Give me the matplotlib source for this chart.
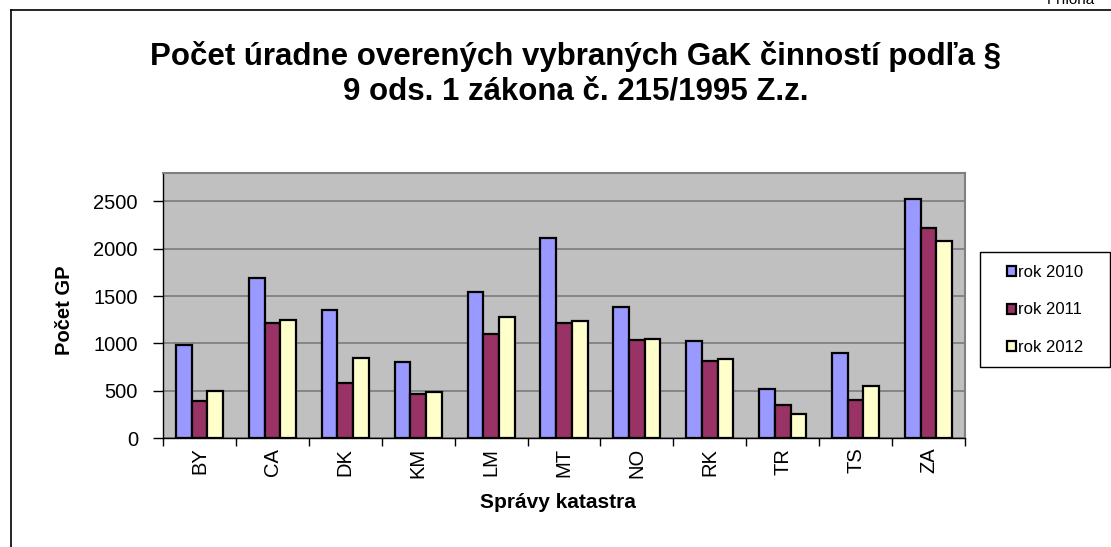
import matplotlib
matplotlib.use("Agg")
import matplotlib.pyplot as plt
import numpy as np
from matplotlib.lines import Line2D
from matplotlib.patches import Rectangle

plt.rcParams['font.family'] = ['Liberation Sans', 'DejaVu Sans']

# data
categories = ['BY', 'CA', 'DK', 'KM', 'LM', 'MT', 'NO', 'RK', 'TR', 'TS', 'ZA']
rok_2010 = [980, 1690, 1350, 805, 1545, 2115, 1380, 1030, 515, 900, 2530]
rok_2011 = [390, 1210, 580, 460, 1100, 1220, 1035, 810, 345, 400, 2215]
rok_2012 = [500, 1250, 845, 490, 1280, 1240, 1045, 835, 255, 550, 2085]
series_names = ['rok 2010', 'rok 2011', 'rok 2012']
colors = ['#9999FF', '#993366', '#FFFFCC']

W, H = 1111, 547
fig = plt.figure(figsize=(W / 100, H / 100), dpi=100)

def fx(px):
    return px / W

def fy(py):
    return 1 - py / H

# outer chart border (top and left visible)
fig.add_artist(Line2D([fx(11), 1.0], [fy(10), fy(10)], color='black', lw=1.2,
                      transform=fig.transFigure))
fig.add_artist(Line2D([fx(11), fx(11)], [fy(10), 0.0], color='black', lw=1.2,
                      transform=fig.transFigure))
fig.text(fx(1047), fy(4), 'Príloha', fontsize=11, ha='left', va='baseline')

# title
fig.text(fx(576), fy(74), 'Počet úradne overených vybraných GaK činností podľa §\n'
         '9 ods. 1 zákona č. 215/1995 Z.z.',
         fontsize=22.5, fontweight='bold', ha='center', va='center',
         multialignment='center', linespacing=1.2)

ax = fig.add_axes([fx(163), fy(438), fx(965) - fx(163), fy(173) - fy(438)])
ax.set_facecolor('#C0C0C0')

x = np.arange(len(categories))
w = 0.215
for i, (vals, name) in enumerate(zip([rok_2010, rok_2011, rok_2012], series_names)):
    ax.bar(x + (i - 1) * w, vals, width=w, color=colors[i], edgecolor='black',
           linewidth=1.6, label=name, zorder=3)

ax.set_xlim(-0.5, len(categories) - 0.5)
ax.set_ylim(0, 2800)
ax.set_yticks(range(0, 3000, 500))
ax.yaxis.grid(True, color='#808080', linewidth=1.3, zorder=0)
ax.set_axisbelow(True)

ax.set_xticks(np.arange(-0.5, len(categories), 1.0))
ax.set_xticklabels([])
ax.set_xticks(x, minor=True)
ax.set_xticklabels(categories, minor=True, rotation=90, fontsize=14.5)
ax.tick_params(axis='x', which='major', direction='out', length=6, width=1, color='black')
ax.tick_params(axis='x', which='minor', length=0, pad=7)
ax.tick_params(axis='y', direction='out', length=7, width=1, color='black',
               labelsize=14.5, pad=11)

for s in ['top', 'right']:
    ax.spines[s].set_color('#808080')
    ax.spines[s].set_linewidth(1.5)
for s in ['left', 'bottom']:
    ax.spines[s].set_color('black')
    ax.spines[s].set_linewidth(1.0)

fig.text(fx(64), fy(310), 'Počet GP', rotation=90, fontsize=14.5,
         fontweight='bold', ha='center', va='center')
fig.text(fx(558), fy(503), 'Správy katastra', fontsize=15,
         fontweight='bold', ha='center', va='center')

# legend with separate frame
fig.add_artist(Rectangle((fx(980), fy(367)), fx(1110) - fx(980), fy(252) - fy(367),
                         transform=fig.transFigure, facecolor='white',
                         edgecolor='black', linewidth=1.0))
handles, labels = ax.get_legend_handles_labels()
leg = fig.legend(handles, labels, loc='center',
                 bbox_to_anchor=(fx(1045), fy(310)), frameon=False,
                 fontsize=12, handlelength=0.55, handleheight=0.55,
                 handletextpad=0.15, labelspacing=1.35)

fig.savefig('out.png', dpi=100)
